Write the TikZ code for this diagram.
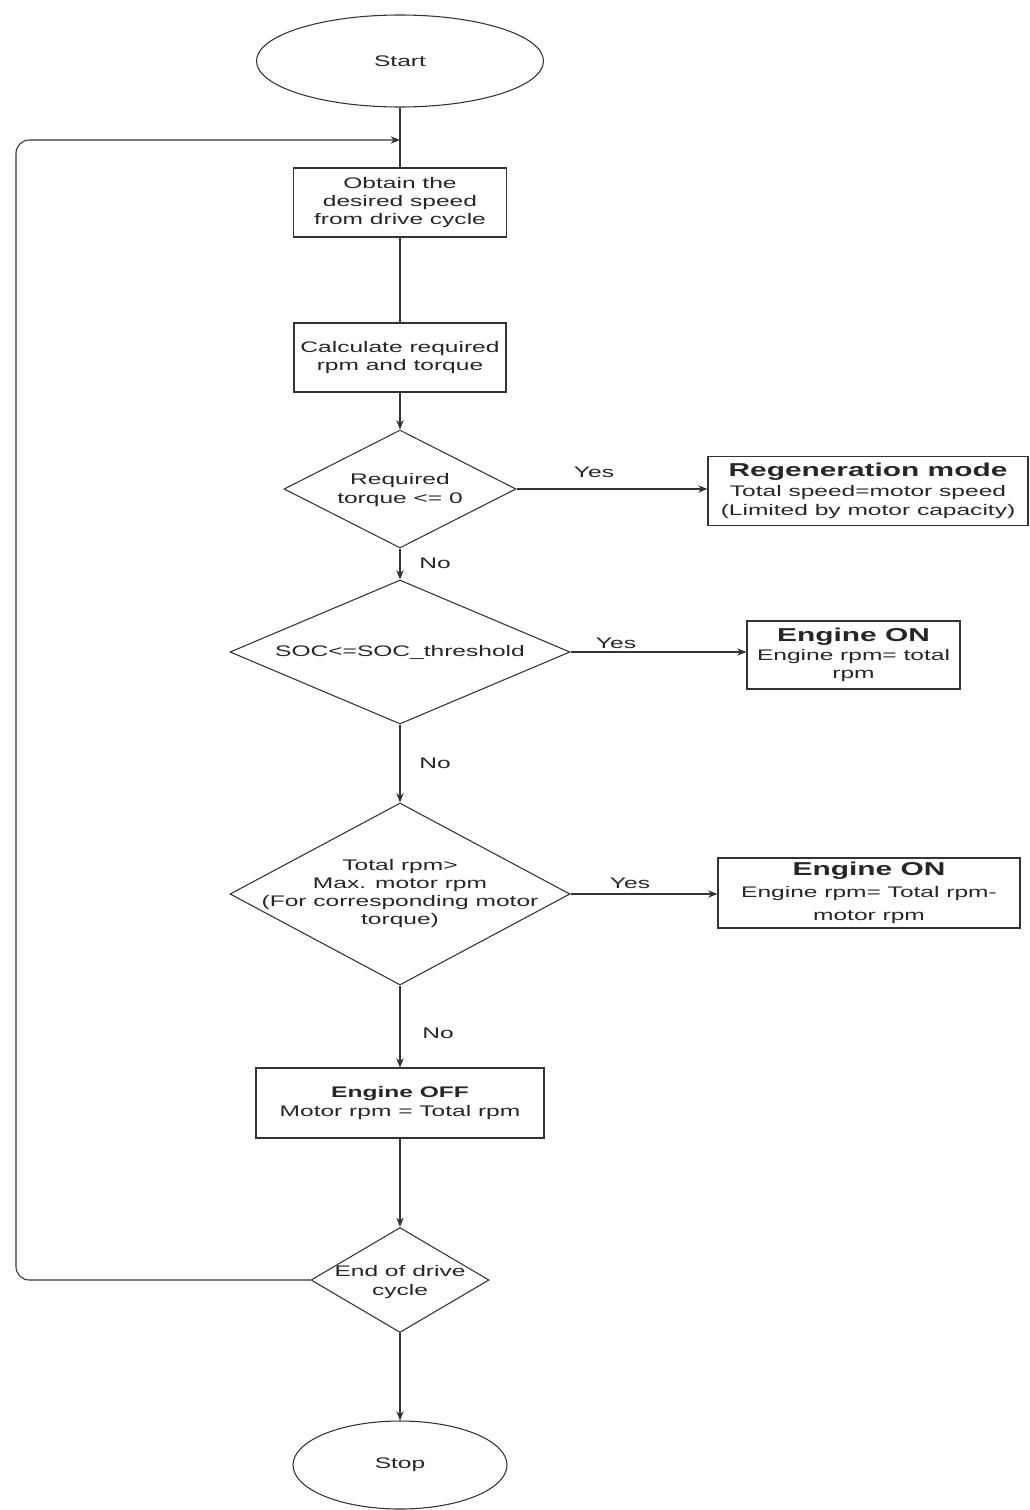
\documentclass[tikz,border=0pt]{standalone}
\usepackage{fontspec}
\setmainfont{Liberation Sans}[FakeStretch=1.6]
\usetikzlibrary{shapes.geometric,arrows.meta}
\newcommand{\boxtitle}[1]{{\fontsize{14}{16}\selectfont\bfseries #1}}
\begin{document}
\begin{tikzpicture}[x=0.75pt,y=-0.75pt,
  ln/.style={draw=black!80, line width=0.8pt},
  arr/.style={ln, -{Stealth[length=7pt,width=5.5pt]}},
  txt/.style={font=\fontsize{11.5}{13.5}\selectfont, text=black!85, align=center},
  procbox/.style={ln, rectangle, inner sep=0pt, txt},
  term/.style={ln, ellipse, inner sep=0pt, txt},
  decision/.style={ln, diamond, inner sep=0pt}]
\useasboundingbox (0,0) rectangle (1030,1510);
\fill[white] (0,0) rectangle (1030,1510);

% nodes
\node[term, minimum width=215.25pt, minimum height=69pt] (start) at (400,61) {Start};
\node[procbox, minimum width=159.75pt, minimum height=51.75pt] (obtain) at (400,202.5) {Obtain the\\desired speed\\from drive cycle};
\node[procbox, minimum width=159pt, minimum height=51.75pt] (calc) at (400,357.5) {Calculate required\\rpm and torque};

\node[decision, minimum width=174pt, minimum height=88.5pt] (d1) at (400,489) {};
\node[txt] (d1t) at (400,490) {Required\\[1pt]torque <= 0};

\node[procbox, minimum width=240pt, minimum height=51.75pt] (regen) at (868,491) {\boxtitle{Regeneration mode}\\[1pt]Total speed=motor speed\\[1pt](Limited by motor capacity)};

\node[decision, minimum width=255pt, minimum height=108pt] (d2) at (400,652) {};
\node[txt] (d2t) at (400,652) {SOC<=SOC\_threshold};

\node[procbox, minimum width=159.75pt, minimum height=51pt] (eon1) at (853.5,655) {\boxtitle{Engine ON}\\[1pt]Engine rpm= total\\rpm};

\node[decision, minimum width=255pt, minimum height=136.5pt] (d3) at (400,894) {};
\node[txt] (d3t) at (400,894) {Total rpm>\\Max. motor rpm\\(For corresponding motor\\torque)};

\node[procbox, minimum width=226.5pt, minimum height=52.5pt] (eon2) at (869,893) {\boxtitle{Engine ON}\\[3pt]Engine rpm= Total rpm-\\[4pt]motor rpm};

\node[procbox, minimum width=216pt, minimum height=52.5pt] (eoff) at (400,1103) {\textbf{Engine OFF}\\[1pt]Motor rpm = Total rpm};

\node[decision, minimum width=133.5pt, minimum height=78.75pt] (d4) at (400,1280) {};
\node[txt] (d4t) at (400,1282) {End of drive\\[1pt]cycle};

\node[term, minimum width=160.5pt, minimum height=66pt] (stop) at (400,1465) {Stop};

% labels
\node[txt] (yes1) at (594,472) {Yes};
\node[txt] (no1) at (435,563) {No};
\node[txt] (yes2) at (616,643) {Yes};
\node[txt] (no2) at (435,763) {No};
\node[txt] (yes3) at (630,883) {Yes};
\node[txt] (no3) at (438,1033) {No};

% connectors
\coordinate (join) at (400,140);
\coordinate (loopb) at (16,1280);
\coordinate (loopt) at (16,140);
\draw[ln] (start.south) -- (obtain.north);
\draw[ln] (obtain.south) -- (calc.north);
\draw[arr] (calc.south) -- (d1.north);
\draw[arr] (d1.east) -- (regen.west |- d1.east);
\draw[arr] (d1.south) -- (d2.north);
\draw[arr] (d2.east) -- (eon1.west |- d2.east);
\draw[arr] (d2.south) -- (d3.north);
\draw[arr] (d3.east) -- (eon2.west |- d3.east);
\draw[arr] (d3.south) -- (eoff.north);
\draw[arr] (eoff.south) -- (d4.north);
\draw[arr] (d4.south) -- (stop.north);
\draw[arr, rounded corners=10pt] (d4.west) -- (loopb) -- (loopt) -- (join);
\end{tikzpicture}
\end{document}
